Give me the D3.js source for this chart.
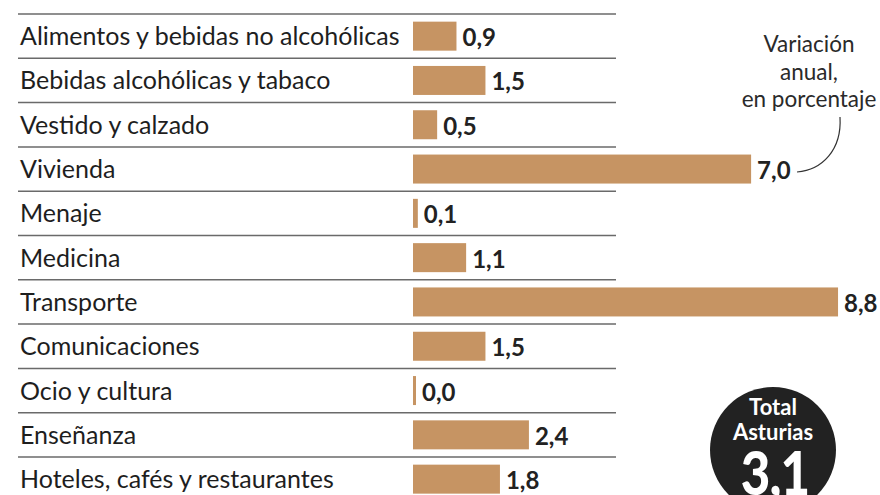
<!DOCTYPE html>
<html>
<head>
<meta charset="utf-8">
<script src="https://cdn.jsdelivr.net/npm/d3@7"></script>
<style>
  html, body { margin: 0; padding: 0; background: #fff; }
  svg { display: block; }
</style>
</head>
<body>
<svg id="chart" width="880" height="495"></svg>
<script>
const categories = [
  "Alimentos y bebidas no alcohólicas",
  "Bebidas alcohólicas y tabaco",
  "Vestido y calzado",
  "Vivienda",
  "Menaje",
  "Medicina",
  "Transporte",
  "Comunicaciones",
  "Ocio y cultura",
  "Enseñanza",
  "Hoteles, cafés y restaurantes"
];
const values = [0.9, 1.5, 0.5, 7.0, 0.1, 1.1, 8.8, 1.5, 0.0, 2.4, 1.8];
const annotationLines = ["Variación", "anual,", "en porcentaje"];
const totalLabel = ["Total", "Asturias"];
const totalValue = 3.1;

const fmt = v => d3.format(".1f")(v).replace(".", ",");

const svg = d3.select("#chart");
const rowH = 44.3;
const top0 = 14;
const FONT = "Lato, 'Open Sans', sans-serif";

const y = d3.scaleBand()
  .domain(categories)
  .range([top0, top0 + rowH * categories.length])
  .padding(0);

const x = d3.scaleLinear()
  .domain([0, 8.8])
  .range([413, 413 + 8.8 * 48.3]);

const barColor = "#c69463";
const barH = 29;

// separator lines
const seps = categories.map((c, i) => top0 + i * rowH);
svg.append("g").selectAll("line")
  .data(seps)
  .join("line")
  .attr("x1", 18).attr("x2", 616)
  .attr("y1", d => d).attr("y2", d => d)
  .attr("stroke", "#6a6a6a")
  .attr("stroke-width", 1.5);

// category labels
svg.append("g").selectAll("text")
  .data(categories)
  .join("text")
  .attr("x", 20)
  .attr("y", d => y(d) + y.bandwidth() / 2 + 9)
  .attr("font-family", FONT)
  .attr("font-size", 25)
  .attr("fill", "#1e1e1e")
  .text(d => d);

// bars
const data = categories.map((c, i) => ({ c, v: values[i] }));
svg.append("g").selectAll("rect")
  .data(data)
  .join("rect")
  .attr("x", x(0))
  .attr("y", d => y(d.c) + (y.bandwidth() - barH) / 2)
  .attr("width", d => Math.max(3, x(d.v) - x(0)))
  .attr("height", barH)
  .attr("fill", barColor);

// value labels
svg.append("g").selectAll("text")
  .data(data)
  .join("text")
  .attr("x", d => x(0) + Math.max(3, x(d.v) - x(0)) + 6)
  .attr("y", d => y(d.c) + y.bandwidth() / 2 + 10)
  .attr("font-family", FONT)
  .attr("font-weight", 700)
  .attr("font-size", 24)
  .attr("fill", "#222")
  .text(d => fmt(d.v));

// annotation
const ann = svg.append("text")
  .attr("text-anchor", "middle")
  .attr("font-family", FONT)
  .attr("font-size", 22.5)
  .attr("fill", "#2a2a2a");
annotationLines.forEach((t, i) => {
  ann.append("tspan").attr("x", 809).attr("y", 52 + i * 27.5).text(t);
});
svg.append("path")
  .attr("d", "M840,117 C842,150 822,170 797,172")
  .attr("fill", "none")
  .attr("stroke", "#333")
  .attr("stroke-width", 1.2);

// total circle
svg.append("circle")
  .attr("cx", 773).attr("cy", 450).attr("r", 63)
  .attr("fill", "#222");
const tt = svg.append("text")
  .attr("text-anchor", "middle")
  .attr("font-family", FONT)
  .attr("font-weight", 700)
  .attr("font-size", 22)
  .attr("fill", "#fff");
totalLabel.forEach((t, i) => {
  tt.append("tspan").attr("x", 773).attr("y", 415 + i * 25).text(t);
});
svg.append("text")
  .attr("transform", "translate(775,495) scale(0.85,1)")
  .attr("text-anchor", "middle")
  .attr("font-family", FONT)
  .attr("font-weight", 900)
  .attr("font-size", 60)
  .attr("letter-spacing", -1)
  .attr("fill", "#fff")
  .text(fmt(totalValue));
</script>
</body>
</html>
